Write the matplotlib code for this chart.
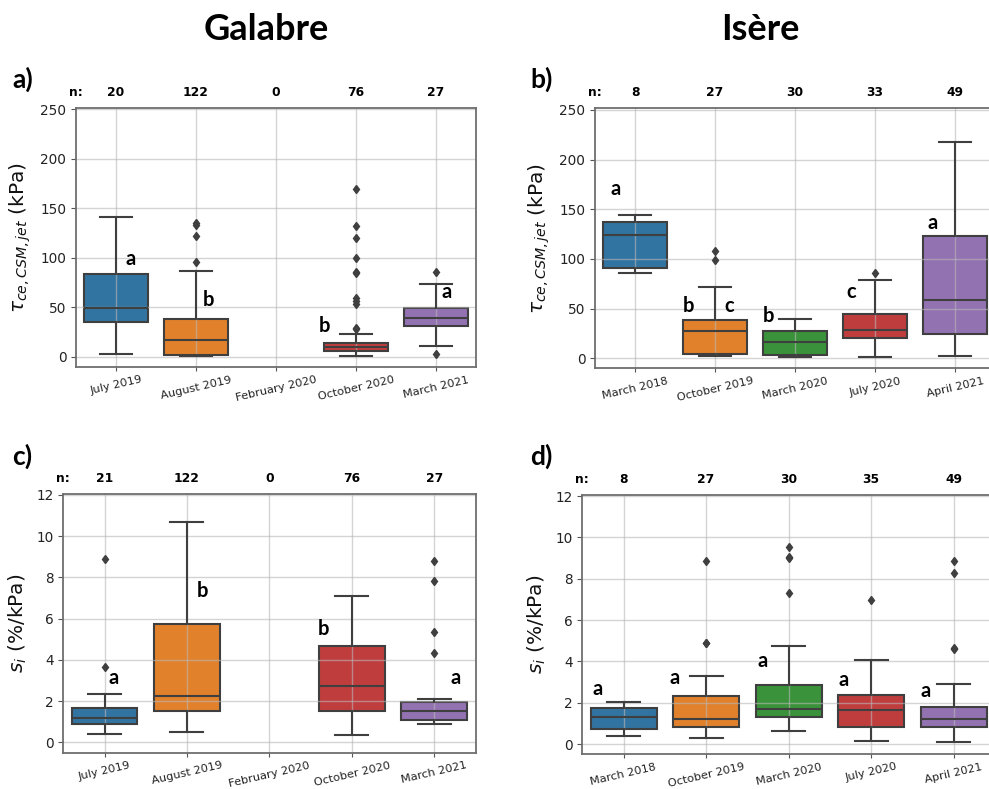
import matplotlib
matplotlib.use("Agg")
import matplotlib.pyplot as plt

# ---------------- data ----------------
gal_cats = ["July 2019", "August 2019", "February 2020", "October 2020", "March 2021"]
ise_cats = ["March 2018", "October 2019", "March 2020", "July 2020", "April 2021"]

# panel a: Galabre, tau_ce (kPa)
a_n = [20, 122, 0, 76, 27]
a_q1 = [35.4, 2.0, None, 5.8, 30.7]
a_med = [48.9, 17.2, None, 10.1, 39.4]
a_q3 = [83.6, 38.1, None, 14.2, 48.9]
a_wlo = [2.7, 0.7, None, 0.7, 11.1]
a_whi = [141.5, 86.6, None, 23.3, 73.8]
a_fliers = [[], [134.8, 133.1, 122.0, 95.7], [],
            [169.3, 132.4, 119.8, 99.6, 85.9, 85.0, 59.0, 56.6, 53.0, 28.7, 27.7],
            [85.9, 2.4]]
a_letters = ["a", "b", "b", "a"]

# panel b: Isere, tau_ce (kPa)
b_n = [8, 27, 30, 33, 49]
b_q1 = [90.8, 3.7, 3.0, 20.1, 24.8]
b_med = [124.2, 27.5, 16.7, 28.8, 58.7]
b_q3 = [136.9, 38.9, 27.2, 44.6, 122.8]
b_wlo = [86.2, 2.3, 1.3, 1.3, 2.0]
b_whi = [144.3, 72.1, 39.6, 78.8, 217.4]
b_fliers = [[], [108.3, 99.0], [], [86.2], []]
b_letters = ["a", "b", "c", "b", "c", "a"]

# panel c: Galabre, s_i (%/kPa)
c_n = [21, 122, 0, 76, 27]
c_q1 = [0.89, 1.53, None, 1.53, 1.07]
c_med = [1.19, 2.26, None, 2.75, 1.52]
c_q3 = [1.65, 5.75, None, 4.67, 1.97]
c_wlo = [0.39, 0.48, None, 0.34, 0.90]
c_whi = [2.34, 10.67, None, 7.11, 2.09]
c_fliers = [[8.88, 3.67], [], [], [], [8.78, 7.81, 5.37, 4.32]]
c_letters = ["a", "b", "b", "a"]

# panel d: Isere, s_i (%/kPa)
d_n = [8, 27, 30, 35, 49]
d_q1 = [0.73, 0.81, 1.32, 0.81, 0.81]
d_med = [1.29, 1.19, 1.68, 1.63, 1.23]
d_q3 = [1.74, 2.34, 2.87, 2.37, 1.81]
d_wlo = [0.37, 0.29, 0.63, 0.16, 0.10]
d_whi = [2.03, 3.29, 4.74, 4.06, 2.89]
d_fliers = [[], [8.87, 4.90, 4.87], [9.55, 9.05, 8.98, 7.29], [6.97], [8.85, 8.29, 4.65, 4.58]]
d_letters = ["a", "a", "a", "a", "a"]

# ---------------- layout / style (not data) ----------------
a_letter_pos = [(0.18, 92.7), (1.15, 51.6), (2.60, 25.3), (4.13, 59.0)]
b_letter_pos = [(-0.24, 164.4), (0.675, 46.3), (1.18, 46.3), (1.67, 36.2), (2.70, 60.4), (3.72, 130.2)]
c_letter_pos = [(0.11, 2.81), (1.19, 7.07), (2.66, 5.22), (4.26, 2.81)]
d_letter_pos = [(-0.32, 2.37), (0.62, 2.89), (1.68, 3.74), (2.67, 2.82), (3.66, 2.29)]

PALETTE = ["#3274a1", "#e1812c", "#3a923a", "#c03d3e", "#9372b2"]
GRAY = "#3f3f3f"
W, H = 989, 789
LETTER_FONT = ["Lato", "DejaVu Sans"]

fig = plt.figure(figsize=(W / 100, H / 100), dpi=100)


def px_rect(l, t, r, b):
    return [l / W, 1 - b / H, (r - l) / W, (b - t) / H]


def panel(rect, cats, n, q1, med, q3, wlo, whi, fliers, letters, letter_pos,
          ylim, yticks, ylabel):
    ax = fig.add_axes(rect)
    stats, pos, cols = [], [], []
    for i in range(len(cats)):
        if med[i] is None:
            continue
        stats.append(dict(med=med[i], q1=q1[i], q3=q3[i], whislo=wlo[i],
                          whishi=whi[i], fliers=fliers[i], label=cats[i]))
        pos.append(i)
        cols.append(PALETTE[i])
    res = ax.bxp(stats, positions=pos, widths=0.8, patch_artist=True,
                 boxprops=dict(edgecolor=GRAY, linewidth=1.5),
                 medianprops=dict(color=GRAY, linewidth=1.5),
                 whiskerprops=dict(color=GRAY, linewidth=1.5),
                 capprops=dict(color=GRAY, linewidth=1.5),
                 flierprops=dict(marker="d", markerfacecolor=GRAY,
                                 markeredgecolor=GRAY, markersize=4.5,
                                 linestyle="none"))
    for box, c in zip(res["boxes"], cols):
        box.set_facecolor(c)
        box.set_zorder(1)
    ax.set_xlim(-0.5, len(cats) - 0.5)
    ax.set_xticks(range(len(cats)))
    ax.set_xticklabels(cats, rotation=13, fontsize=8.2, color="#222222")
    ax.set_ylim(*ylim)
    ax.set_yticks(yticks)
    ax.tick_params(axis="y", labelsize=9.8, colors="#222222", length=3.5, pad=3.5)
    ax.tick_params(axis="x", length=3, pad=2.5)
    ax.tick_params(axis="both", color="#555555")
    ax.set_axisbelow("line")
    ax.grid(True, color="#b8b8b8", alpha=0.6, linewidth=1.0)
    for s in ax.spines.values():
        s.set_color("#6e6e6e")
        s.set_linewidth(1.3)
    ax.set_ylabel(ylabel, fontsize=14.5, labelpad=5, color="#111111")
    for t, (x, y) in zip(letters, letter_pos):
        ax.text(x, y, t, ha="center", va="baseline", fontsize=14.5,
                fontweight="bold", family=LETTER_FONT)
    ax.annotate("n:", xy=(-0.5, 1), xycoords=("data", "axes fraction"),
                xytext=(0, 11.5), textcoords="offset points", ha="center",
                va="center", fontsize=8.8, fontweight="bold")
    for i, v in enumerate(n):
        ax.annotate(str(v), xy=(i, 1), xycoords=("data", "axes fraction"),
                    xytext=(0, 11.5), textcoords="offset points", ha="center",
                    va="center", fontsize=8.8, fontweight="bold")
    return ax


tau_label = r"$\tau_{ce,CSM,jet}$ (kPa)"
s_label = r"$s_i$ (%/kPa)"

panel(px_rect(76, 108, 476, 367), gal_cats, a_n, a_q1, a_med, a_q3, a_wlo, a_whi,
      a_fliers, a_letters, a_letter_pos, (-10.4, 251.4), range(0, 251, 50), tau_label)
panel(px_rect(595, 108.3, 995, 368.3), ise_cats, b_n, b_q1, b_med, b_q3, b_wlo, b_whi,
      b_fliers, b_letters, b_letter_pos, (-10.2, 251.6), range(0, 251, 50), tau_label)
panel(px_rect(63.3, 494.3, 475.5, 752.7), gal_cats, c_n, c_q1, c_med, c_q3, c_wlo, c_whi,
      c_fliers, c_letters, c_letter_pos, (-0.5, 12.03), range(0, 13, 2), s_label)
panel(px_rect(582.3, 495, 994.8, 754), ise_cats, d_n, d_q1, d_med, d_q3, d_wlo, d_whi,
      d_fliers, d_letters, d_letter_pos, (-0.48, 12.05), range(0, 13, 2), s_label)

# titles and panel labels
fig.text(266 / W, 1 - 40 / H, "Galabre", ha="center", va="baseline",
         fontsize=26, fontweight="bold", family=LETTER_FONT)
fig.text(760 / W, 1 - 40 / H, "Isère", ha="center", va="baseline",
         fontsize=26, fontweight="bold", family=LETTER_FONT)
for lab, x, y in [("a)", 12, 88), ("b)", 530, 88), ("c)", 12, 465), ("d)", 530, 465)]:
    fig.text(x / W, 1 - y / H, lab, ha="left", va="baseline", fontsize=19,
             fontweight="bold", family=LETTER_FONT)

fig.savefig("out.png", dpi=100, facecolor="white")
